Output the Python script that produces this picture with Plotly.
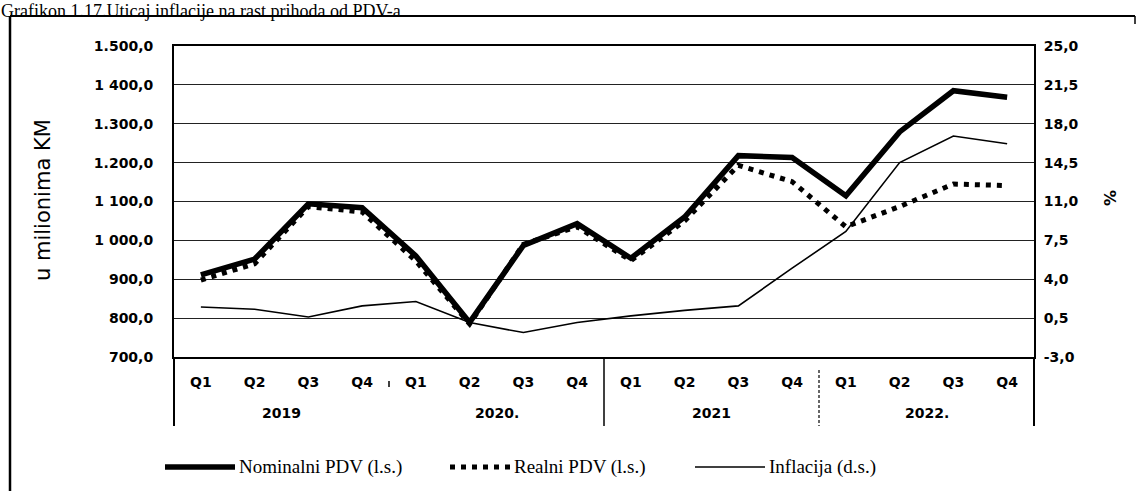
import plotly.graph_objects as go

years = ["2019"] * 4 + ["2020."] * 4 + ["2021"] * 4 + ["2022."] * 4
quarters = ["Q1", "Q2", "Q3", "Q4"] * 4

nominalni = [911, 952, 1094, 1084, 960, 789, 987, 1043, 954, 1060, 1218, 1213, 1115, 1279, 1385, 1368]
realni = [898, 940, 1087, 1073, 947, 785, 990, 1035, 948, 1050, 1193, 1151, 1035, 1087, 1145, 1141]
inflacija = [1.5, 1.3, 0.6, 1.6, 2.0, 0.1, -0.8, 0.1, 0.7, 1.2, 1.6, 5.0, 8.3, 14.5, 16.9, 16.2]

left_ticks = [700, 800, 900, 1000, 1100, 1200, 1300, 1400, 1500]
left_labels = ["700,0", "800,0", "900,0", "1 000,0", "1 100,0", "1.200,0", "1.300,0", "1 400,0", "1.500,0"]
right_ticks = [-3.0, 0.5, 4.0, 7.5, 11.0, 14.5, 18.0, 21.5, 25.0]
right_labels = ["-3,0", "0,5", "4,0", "7,5", "11,0", "14,5", "18,0", "21,5", "25,0"]

title_text = "Grafikon 1.17.Uticaj inflacije na rast prihoda od PDV-a"
left_title = "u milionima KM"
right_title = "%"
legend_names = ["Nominalni PDV (l.s.)", "Realni PDV (l.s.)", "Inflacija (d.s.)"]

W, H = 1143, 491
L, R, T, B = 174, 1034, 46, 357
n = len(quarters)


def px(xp):
    return (xp - L) / (R - L)


def py(yp):
    return (B - yp) / (B - T)


cats = [f"{y} {q}" for y, q in zip(years, quarters)]
fig = go.Figure()
fig.add_trace(go.Scatter(x=cats, y=realni, mode="lines", name=legend_names[1],
                         line=dict(color="black", width=5, dash="5px,6px"), showlegend=False))
fig.add_trace(go.Scatter(x=cats, y=nominalni, mode="lines", name=legend_names[0],
                         line=dict(color="black", width=5.5), showlegend=False))
fig.add_trace(go.Scatter(x=cats, y=inflacija, mode="lines", name=legend_names[2], yaxis="y2",
                         line=dict(color="black", width=1.6), showlegend=False))

tick_font = dict(family="DejaVu Sans", size=14, color="black", weight="bold")

fig.update_layout(
    width=W, height=H,
    margin=dict(l=L, r=W - R, t=T, b=H - B, autoexpand=False),
    paper_bgcolor="white", plot_bgcolor="white",
    xaxis=dict(type="category", range=[-0.5, n - 0.5], tickvals=cats, ticktext=quarters,
               showline=True, linecolor="black", linewidth=1.5, mirror=True, showgrid=False,
               tickfont=tick_font, ticks="", ticklabelstandoff=11),
    yaxis=dict(range=[700, 1500], tickvals=left_ticks, ticktext=left_labels,
               showline=True, linecolor="black", linewidth=2, showgrid=True,
               gridcolor="#222222", gridwidth=1, zeroline=False, tickfont=tick_font,
               ticklabelstandoff=16),
    yaxis2=dict(range=[-3, 25], tickvals=right_ticks, ticktext=right_labels, overlaying="y",
                side="right", showline=True, linecolor="black", linewidth=2, showgrid=False,
                zeroline=False, tickfont=tick_font, ticklabelstandoff=5),
)

# year group labels (centred under each group of quarters)
groups = []
for i, y in enumerate(years):
    if not groups or groups[-1][0] != y:
        groups.append([y, i, i])
    else:
        groups[-1][2] = i
for y, i0, i1 in groups:
    fig.add_annotation(text=y, xref="paper", yref="paper", x=(i0 + i1 + 1) / 2 / n, y=py(413),
                       showarrow=False, xanchor="center", yanchor="middle", font=tick_font)

# axis titles
fig.add_annotation(text=left_title, xref="paper", yref="paper", x=px(43), y=py(200),
                   textangle=-90, showarrow=False, xanchor="center", yanchor="middle",
                   font=dict(family="DejaVu Sans", size=21, color="black"))
fig.add_annotation(text=right_title, xref="paper", yref="paper", x=px(1110), y=py(198),
                   textangle=-90, showarrow=False, xanchor="center", yanchor="middle",
                   font=dict(family="DejaVu Sans", size=16, color="black", weight="bold"))

# axis extensions and group dividers below the plot
ext = dict(color="black", width=2)
fig.add_shape(type="line", xref="paper", yref="paper", x0=0, x1=0, y0=0, y1=py(426), line=ext)
fig.add_shape(type="line", xref="paper", yref="paper", x0=1, x1=1, y0=0, y1=py(426), line=ext)
fig.add_shape(type="line", xref="paper", yref="paper", x0=0.25, x1=0.25, y0=py(381), y1=py(387),
              line=dict(color="black", width=1.5))
fig.add_shape(type="line", xref="paper", yref="paper", x0=0.5, x1=0.5, y0=0, y1=py(426),
              line=dict(color="black", width=1.5))
fig.add_shape(type="line", xref="paper", yref="paper", x0=0.75, x1=0.75, y0=py(370), y1=py(426),
              line=dict(color="black", width=1.2, dash="3px,2px"))

# outer frame
fig.add_shape(type="line", xref="paper", yref="paper", x0=px(10), x1=px(1135), y0=py(16), y1=py(16),
              line=dict(color="black", width=2))
fig.add_shape(type="line", xref="paper", yref="paper", x0=px(10), x1=px(10), y0=py(16), y1=py(491),
              line=dict(color="black", width=2.5))
fig.add_shape(type="line", xref="paper", yref="paper", x0=px(1135), x1=px(1135), y0=py(16), y1=py(24),
              line=dict(color="black", width=1.5))

# title
fig.add_annotation(text=title_text, xref="paper", yref="paper", x=px(0), y=py(0),
                   xanchor="left", yanchor="top", showarrow=False, borderpad=0,
                   font=dict(family="Liberation Serif", size=18, color="black"))

# custom legend
leg_y = py(467)
leg_font = dict(family="Liberation Serif", size=19, color="black")
items = [
    (165, 235, dict(color="black", width=5.5), legend_names[0]),
    (450, 510, dict(color="black", width=5, dash="5px,6px"), legend_names[1]),
    (695, 765, dict(color="black", width=1.6), legend_names[2]),
]
for x0, x1, ln, name in items:
    fig.add_shape(type="line", xref="paper", yref="paper", x0=px(x0), x1=px(x1), y0=leg_y, y1=leg_y, line=ln)
    fig.add_annotation(text=name, xref="paper", yref="paper", x=px(x1 + 2), y=leg_y,
                       xanchor="left", yanchor="middle", showarrow=False, font=leg_font)

fig.write_html("out.html", config={"displayModeBar": False},
               post_script="document.body.style.margin='0px';")
